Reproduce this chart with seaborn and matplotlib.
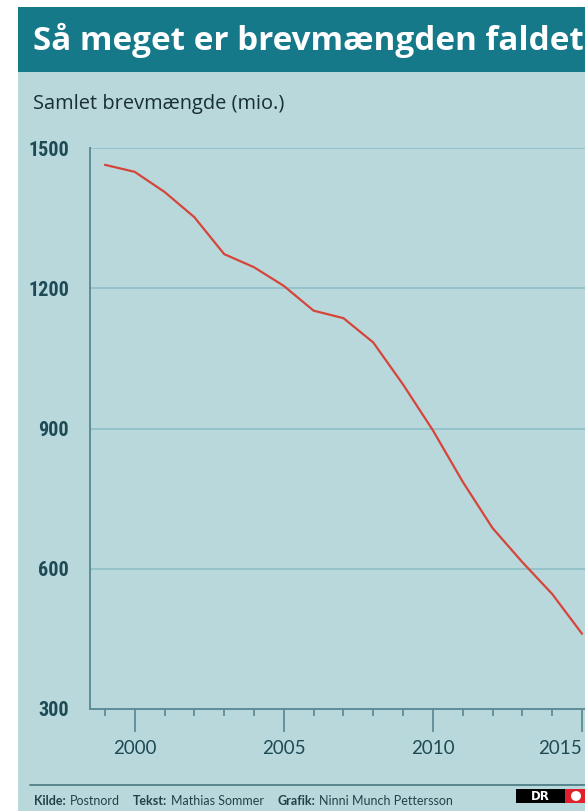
import matplotlib
matplotlib.use("Agg")
import matplotlib.pyplot as plt
import matplotlib.patches as mpatches
import seaborn as sns
import pandas as pd

years = list(range(1999, 2016))
letters_mio = [1464, 1449, 1406, 1352, 1273, 1245, 1205, 1152, 1136, 1084,
               994, 896, 786, 687, 614, 546, 461]
y_ticks = [300, 600, 900, 1200, 1500]
x_ticks = [2000, 2005, 2010, 2015]

title = "Så meget er brevmængden faldet"
subtitle = "Samlet brevmængde (mio.)"
footer_labels = ["Kilde:", "Tekst:", "Grafik:"]
footer_values = ["Postnord", "Mathias Sommer", "Ninni Munch Pettersson"]

df = pd.DataFrame({"year": years, "mio": letters_mio})

sns.set_theme(style="white")
plt.rcParams['font.family'] = ['Lato', 'DejaVu Sans']

W, H = 585, 811
fig = plt.figure(figsize=(W / 100, H / 100), dpi=100)
fig.patch.set_facecolor("white")
renderer = fig.canvas.get_renderer()

bg = "#b8d8dc"
teal = "#16798a"
dark = "#1d4a55"
gridc = "#8dbfc8"
spinec = "#5d8d97"


def fx(px):
    return px / W


def fy(py):
    return 1 - py / H


def fit_text(x, y, s, target_w, size, **kw):
    t = fig.text(fx(x), fy(y), s, fontsize=size, **kw)
    w = t.get_window_extent(renderer).width
    t.set_fontsize(size * target_w / w)
    return t


# background panels
fig.add_artist(mpatches.Rectangle((fx(18), 0), 1 - fx(18), fy(72), transform=fig.transFigure,
                                  facecolor=bg, edgecolor="none", zorder=0))
fig.add_artist(mpatches.Rectangle((fx(18), fy(72)), 1 - fx(18), fy(7) - fy(72), transform=fig.transFigure,
                                  facecolor=teal, edgecolor="none", zorder=0))

fit_text(33, 40, title, 551, 21, color="white", fontweight="bold",
         family=["Open Sans", "DejaVu Sans"], va="center", ha="left")
fit_text(33, 104, subtitle, 250, 13, color="#1a2e33",
         family=["Open Sans", "DejaVu Sans"], va="center", ha="left")

ax = fig.add_axes([fx(90), fy(709), 1 - fx(90), fy(148) - fy(709)])
ax.set_facecolor("none")
sns.lineplot(data=df, x="year", y="mio", ax=ax, color="#d6453a", linewidth=1.6)
ax.set_xlim(1998.5, 2015.1)
ax.set_ylim(300, 1500)
ax.set_xlabel("")
ax.set_ylabel("")

ax.set_yticks(y_ticks)
ax.set_yticklabels([str(v) for v in y_ticks], fontsize=14.5, fontweight="bold",
                   family=["Roboto Condensed", "Roboto", "DejaVu Sans"], color=dark)
for yv in y_ticks[1:]:
    ax.axhline(yv, color=gridc, linewidth=1.2, zorder=0)
ax.tick_params(axis="y", length=0, pad=15, left=False)

ax.set_xticks(x_ticks)
ax.set_xticklabels([str(v) for v in x_ticks], fontsize=13.5, color=dark,
                   family=["Lato", "DejaVu Sans"])
ax.set_xticks(years, minor=True)
ax.tick_params(axis="x", which="both", bottom=True)
ax.tick_params(axis="x", which="major", length=16.5, width=1.3, color=spinec, pad=6, direction="out")
ax.tick_params(axis="x", which="minor", length=5, width=1.3, color=spinec, direction="out")
ax.get_xticklabels()[-1].set_horizontalalignment("right")

for s in ["top", "right"]:
    ax.spines[s].set_visible(False)
for s in ["left", "bottom"]:
    ax.spines[s].set_color(spinec)
    ax.spines[s].set_linewidth(1.4)

# footer line
fig.add_artist(plt.Line2D([fx(30), 1], [fy(785), fy(785)], transform=fig.transFigure,
                          color="#4f7f88", linewidth=1.3))
starts = [34, 133, 277]
for lab, val, xp in zip(footer_labels, footer_values, starts):
    t = fig.text(fx(xp), fy(801), lab, fontsize=9, fontweight="bold", color="#24414a",
                 family=["Lato", "DejaVu Sans"], va="center", ha="left")
    w = t.get_window_extent(renderer).width
    fig.text(fx(xp + w + 4), fy(801), val, fontsize=9, color="#24414a",
             family=["Lato", "DejaVu Sans"], va="center", ha="left")

# DR logo
fig.add_artist(mpatches.Rectangle((fx(516), fy(803)), fx(565) - fx(516), fy(789) - fy(803),
                                  transform=fig.transFigure, facecolor="black", edgecolor="none"))
fig.text(fx(540), fy(796), "DR", color="white", fontsize=8.5, fontweight="bold",
         family=["DejaVu Sans"], va="center", ha="center")
fig.add_artist(mpatches.Rectangle((fx(565), fy(803)), 1 - fx(565), fy(789) - fy(803),
                                  transform=fig.transFigure, facecolor="#e0202a", edgecolor="none"))
fig.add_artist(mpatches.Ellipse((fx(576), fy(796)), fx(10), fy(0) - fy(10),
                                transform=fig.transFigure, facecolor="white", edgecolor="none"))

fig.savefig("out.png", dpi=100, facecolor=fig.get_facecolor())
